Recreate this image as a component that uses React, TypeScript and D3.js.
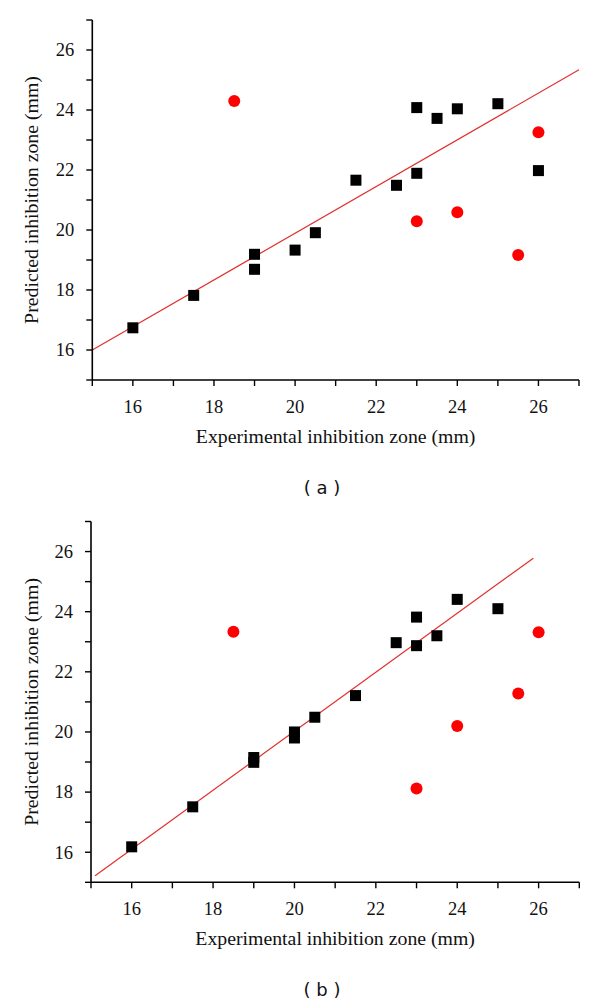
import React from "react";
import * as d3 from "d3";

// Panel (a) data
const aSquareX = [16, 17.5, 19, 19, 20, 20.5, 21.5, 22.5, 23, 23, 23.5, 24, 25, 26];
const aSquareY = [16.74, 17.82, 19.19, 18.69, 19.33, 19.91, 21.66, 21.49, 21.89, 24.08, 23.72, 24.04, 24.21, 21.98];
const aCircleX = [18.5, 23, 24, 25.5, 26];
const aCircleY = [24.3, 20.29, 20.59, 19.17, 23.26];
const aLineX = [15, 27];
const aLineY = [16.0, 25.34];

// Panel (b) data
const bSquareX = [16, 17.5, 19, 19, 20, 20, 20.5, 21.5, 22.5, 23, 23, 23.5, 24, 25];
const bSquareY = [16.18, 17.51, 19.15, 18.99, 20.0, 19.8, 20.49, 21.21, 22.97, 23.82, 22.87, 23.2, 24.41, 24.1];
const bCircleX = [18.5, 23, 24, 25.5, 26];
const bCircleY = [23.33, 18.12, 20.2, 21.28, 23.32];
const bLineX = [15.1, 25.87];
const bLineY = [15.22, 25.78];

const xDomain = [15, 27];
const yDomain = [15, 27];
const tickLabels = [16, 18, 20, 22, 24, 26];
const allTicks = [15, 16, 17, 18, 19, 20, 21, 22, 23, 24, 25, 26, 27];

const xTitle = "Experimental inhibition zone (mm)";
const yTitle = "Predicted inhibition zone (mm)";

const SERIF = "'Liberation Serif', 'Times New Roman', serif";
const SANS = "'DejaVu Sans', Verdana, sans-serif";

type PanelProps = {
  sx: number[]; sy: number[]; cx: number[]; cy: number[]; lx: number[]; ly: number[];
  xr: [number, number]; yr: [number, number]; caption: string;
};

function Panel({ sx, sy, cx, cy, lx, ly, xr, yr, caption }: PanelProps) {
  const x = d3.scaleLinear().domain(xDomain).range(xr);
  const y = d3.scaleLinear().domain(yDomain).range(yr);
  const x0 = xr[0];
  const y0 = yr[0];
  const line = d3.line<number>().x((d) => x(d)).y((_, i) => y(ly[i]));
  const sq = 11;
  return (
    <g>
      {/* regression line */}
      <path d={line(lx) || ""} fill="none" stroke="#e0302f" strokeWidth={1.2} />
      {/* squares */}
      {sx.map((v, i) => (
        <rect key={"s" + i} x={x(v) - sq / 2} y={y(sy[i]) - sq / 2} width={sq} height={sq} fill="#000" />
      ))}
      {/* circles */}
      {cx.map((v, i) => (
        <circle key={"c" + i} cx={x(v)} cy={y(cy[i])} r={6} fill="#ff0000" />
      ))}
      {/* axes */}
      <line x1={x0} x2={xr[1]} y1={y0} y2={y0} stroke="#000" strokeWidth={1.6} />
      <line x1={x0} x2={x0} y1={y0} y2={yr[1]} stroke="#000" strokeWidth={1.6} />
      {allTicks.map((t) => (
        <line key={"xt" + t} x1={x(t)} x2={x(t)} y1={y0} y2={y0 + 6} stroke="#000" strokeWidth={1.4} />
      ))}
      {allTicks.map((t) => (
        <line key={"yt" + t} x1={x0 - 6} x2={x0} y1={y(t)} y2={y(t)} stroke="#000" strokeWidth={1.4} />
      ))}
      {tickLabels.map((t) => (
        <text key={"xl" + t} x={x(t)} y={y0 + 33} textAnchor="middle" fontFamily={SERIF} fontSize={18.5} fill="#111">
          {t}
        </text>
      ))}
      {tickLabels.map((t) => (
        <text key={"yl" + t} x={x0 - 18} y={y(t) + 6.3} textAnchor="end" fontFamily={SERIF} fontSize={18.5} fill="#111">
          {t}
        </text>
      ))}
      <text x={(xr[0] + xr[1]) / 2} y={y0 + 63} textAnchor="middle" fontFamily={SERIF} fontSize={19.8} fill="#111">
        {xTitle}
      </text>
      <text
        transform={`translate(38,${(yr[0] + yr[1]) / 2}) rotate(-90)`}
        textAnchor="middle"
        fontFamily={SERIF}
        fontSize={19.8}
        fill="#111"
      >
        {yTitle}
      </text>
      <text x={322} y={y0 + 114} textAnchor="middle" fontFamily={SANS} fontSize={18} fill="#111" xmlSpace="preserve">
        {caption}
      </text>
    </g>
  );
}

export default function App() {
  return (
    <svg
      width={600}
      height={1004}
      style={{ position: "absolute", left: 0, top: 0, background: "#fff" }}
    >
      <rect width={600} height={1004} fill="#fff" />
      <Panel sx={aSquareX} sy={aSquareY} cx={aCircleX} cy={aCircleY} lx={aLineX} ly={aLineY}
        xr={[92.3, 579]} yr={[380, 20]} caption="( a )" />
      <Panel sx={bSquareX} sy={bSquareY} cx={bCircleX} cy={bCircleY} lx={bLineX} ly={bLineY}
        xr={[91, 579.3]} yr={[882.3, 521.5]} caption="( b )" />
    </svg>
  );
}
